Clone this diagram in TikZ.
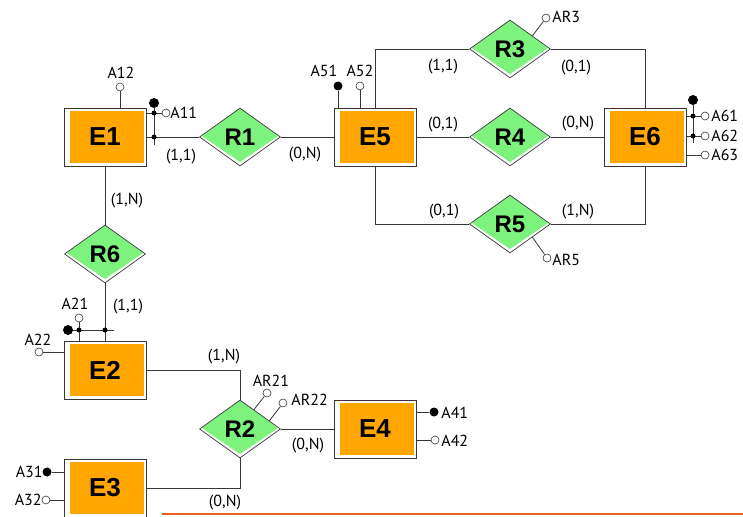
\documentclass[tikz,border=0pt]{standalone}
\usepackage{fontspec}
\setmainfont{PT Sans}
\newfontfamily\erfont{Liberation Sans}
\usetikzlibrary{shapes.geometric,calc}
\definecolor{entorange}{RGB}{255,166,0}
\definecolor{relgreen}{RGB}{125,242,125}
\definecolor{lineclr}{RGB}{55,55,55}
\definecolor{barorange}{RGB}{232,96,28}
\tikzset{
  entity/.style={rectangle,draw=lineclr,fill=white,line width=0.8pt,minimum width=82pt,minimum height=58pt,inner sep=0pt,
    font=\erfont\bfseries\fontsize{26}{26}\selectfont,
    path picture={\fill[entorange] ($(path picture bounding box.south west)+(6pt,3pt)$) rectangle ($(path picture bounding box.north east)+(-2pt,-3pt)$);}},
  relation/.style={diamond,draw=lineclr,fill=white,line width=0.7pt,minimum width=81pt,minimum height=58pt,inner sep=0pt,
    font=\erfont\bfseries\fontsize{24}{24}\selectfont,
    path picture={\fill[relgreen] ($(path picture bounding box.center)+(-38pt,1pt)$) -- ($(path picture bounding box.center)+(0pt,29pt)$)
      -- ($(path picture bounding box.center)+(38pt,1pt)$) -- ($(path picture bounding box.center)+(0pt,-25pt)$) -- cycle;}},
  attr/.style={circle,draw=lineclr,fill=white,line width=0.6pt,minimum size=8pt,inner sep=0pt},
  keyattr/.style={circle,fill=black,minimum size=9pt,inner sep=0pt},
  idkey/.style={circle,fill=black,minimum size=10pt,inner sep=0pt},
  joint/.style={circle,fill=black,minimum size=5pt,inner sep=0pt},
  card/.style={font=\fontsize{16}{16}\selectfont,inner sep=0pt},
  attrlab/.style={font=\fontsize{16}{16}\selectfont,inner sep=0pt},
}
\begin{document}
\begin{tikzpicture}[x=1pt,y=-1pt,line width=0.8pt,draw=lineclr]
\useasboundingbox (0,0) rectangle (743,516);
\clip (0,0) rectangle (743,516);

\node[entity] (E1) at (105,137) {E1};
\node[entity] (E5) at (375,137) {E5};
\node[entity] (E6) at (645,137) {E6};
\node[entity] (E2) at (105,370) {E2};
\node[entity] (E4) at (375,429) {E4};
\node[entity] (E3) at (105,488) {E3};

\node[relation] (R1) at (240,137) {R1};
\node[relation] (R3) at (510,49) {R3};
\node[relation] (R4) at (510,137) {R4};
\node[relation] (R5) at (510,224) {R5};
\node[relation] (R6) at (105,254) {R6};
\node[relation] (R2) at (240,429) {R2};

\draw (E1.east) -- (R1.west);
\draw (R1.east) -- (E5.west);
\draw (E1.south) -- (R6.north);
\draw (R6.south) -- (E2.north);
\draw (E5.north) |- (R3.west);
\draw (E5.east) -- (R4.west);
\draw (E5.south) |- (R5.west);
\draw (R3.east) -| (E6.north);
\draw (R4.east) -- (E6.west);
\draw (R5.east) -| (E6.south);
\draw (E2.east) -| (R2.north);
\draw (E3.east) -| (R2.south);
\draw (R2.east) -- (E4.west);

\node[card] (c1) at (181,157) {(1,1)};
\node[card] (c2) at (305,155) {(0,N)};
\node[card] (c3) at (127,201) {(1,N)};
\node[card] (c4) at (128,307) {(1,1)};
\node[card] (c5) at (224,357) {(1,N)};
\node[card] (c6) at (225,503) {(0,N)};
\node[card] (c7) at (308,446) {(0,N)};
\node[card] (c8) at (443,67) {(1,1)};
\node[card] (c9) at (443,125) {(0,1)};
\node[card] (c10) at (444,212) {(0,1)};
\node[card] (c11) at (576,68) {(0,1)};
\node[card] (c12) at (578,124) {(0,N)};
\node[card] (c13) at (578,212) {(1,N)};

% E1
\node[attr] (A12c) at (120,87) {};
\draw (A12c) -- (A12c |- E1.north);
\node[attrlab] (A12) at (121,73) {A12};
\node[idkey] (id1) at (154,103) {};
\coordinate (id1end) at (154,145);
\draw (id1) -- (id1end);
\node[attr] (A11c) at (166,113) {};
\draw (A11c) -- (A11c -| E1.east);
\node[joint] (j11) at (154,113) {};
\node[joint] (j12) at (154,137) {};
\node[attrlab,anchor=west] (A11) at (170,113) {A11};

% E5
\node[keyattr] (A51c) at (338,86) {};
\draw (A51c) -- (A51c |- E5.north);
\node[attrlab] (A51) at (324,71) {A51};
\node[attr] (A52c) at (360,86) {};
\draw (A52c) -- (A52c |- E5.north);
\node[attrlab] (A52) at (360,71) {A52};

% E6
\node[idkey] (id6) at (693,100) {};
\coordinate (id6end) at (693,143);
\draw (id6) -- (id6end);
\node[attr] (A61c) at (705,116) {};
\node[attr] (A62c) at (705,136) {};
\node[attr] (A63c) at (705,155) {};
\draw (A61c) -- (A61c -| E6.east);
\draw (A62c) -- (A62c -| E6.east);
\draw (A63c) -- (A63c -| E6.east);
\node[joint] (j61) at (693,116) {};
\node[joint] (j62) at (693,136) {};
\node[attrlab,anchor=west] (A61) at (711,116) {A61};
\node[attrlab,anchor=west] (A62) at (711,136) {A62};
\node[attrlab,anchor=west] (A63) at (711,155) {A63};

% R3, R5
\coordinate (R3ar) at ($(R3.north)!0.55!(R3.east)$);
\node[attr] (AR3c) at (546,18) {};
\draw (R3ar) -- (AR3c);
\node[attrlab,anchor=west] (AR3) at (552,17) {AR3};
\coordinate (R5ar) at ($(R5.east)!0.45!(R5.south)$);
\node[attr] (AR5c) at (547,258) {};
\draw (R5ar) -- (AR5c);
\node[attrlab,anchor=west] (AR5) at (552,260) {AR5};

% E2
\node[idkey] (id2) at (68,330) {};
\coordinate (id2end) at (114,330);
\draw (id2) -- (id2end);
\node[attr] (A21c) at (79,318) {};
\draw (A21c) -- (A21c |- E2.north);
\node[joint] (j21) at (79,330) {};
\node[joint] (j22) at (105,330) {};
\node[attrlab] (A21) at (75,304) {A21};
\node[attr] (A22c) at (39,352) {};
\draw (A22c) -- (A22c -| E2.west);
\node[attrlab] (A22) at (38,340) {A22};

% R2
\coordinate (R2ar1) at ($(R2.north)!0.34!(R2.east)$);
\node[attr] (AR21c) at (267,393) {};
\draw (R2ar1) -- (AR21c);
\node[attrlab] (AR21) at (271,381) {AR21};
\coordinate (R2ar2) at ($(R2.north)!0.72!(R2.east)$);
\node[attr] (AR22c) at (283,403) {};
\draw (R2ar2) -- (AR22c);
\node[attrlab,anchor=west] (AR22) at (291,400) {AR22};

% E4
\node[keyattr] (A41c) at (434,412) {};
\draw (A41c) -- (A41c -| E4.east);
\node[attrlab,anchor=west] (A41) at (441,413) {A41};
\node[attr] (A42c) at (435,440) {};
\draw (A42c) -- (A42c -| E4.east);
\node[attrlab,anchor=west] (A42) at (441,441) {A42};

% E3
\node[keyattr] (A31c) at (47,472) {};
\draw (A31c) -- (A31c -| E3.west);
\node[attrlab,anchor=east] (A31) at (43,472) {A31};
\node[attr] (A32c) at (46,500) {};
\draw (A32c) -- (A32c -| E3.west);
\node[attrlab,anchor=east] (A32) at (42,500) {A32};

\draw[barorange,line width=2pt] (162,514) -- (743,514);
\end{tikzpicture}
\end{document}
